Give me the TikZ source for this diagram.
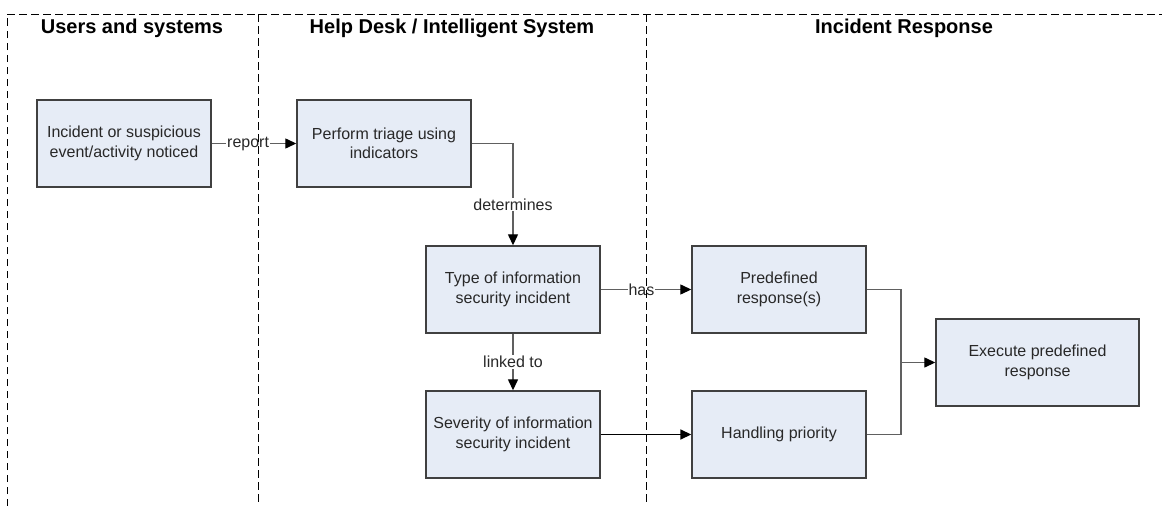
\documentclass[tikz,border=0pt]{standalone}
\usepackage{fontspec}
\setmainfont{Liberation Sans}
\usetikzlibrary{arrows.meta}
\definecolor{boxfill}{RGB}{230,236,246}
\definecolor{boxline}{RGB}{64,64,64}
\definecolor{connline}{RGB}{96,96,96}
\definecolor{txt}{RGB}{40,40,40}
\tikzset{
  stepbox/.style={draw=boxline, line width=1.4pt, fill=boxfill, minimum width=174pt, minimum height=87pt,
    inner sep=0pt, align=center, text=txt, font=\fontsize{16}{19.5}\selectfont},
  lane/.style={dash pattern=on 7.5pt off 4.5pt, line width=0.9pt, black},
  title/.style={font=\bfseries\fontsize{20}{24}\selectfont, text=black},
  conn/.style={draw=connline, line width=1.3pt},
  arr/.style={-{Triangle[length=11pt,width=10pt,color=black]}},
  lbl/.style={fill=white, inner sep=1pt, text=txt, font=\fontsize{16}{19.5}\selectfont}
}
\begin{document}
\begin{tikzpicture}[x=1pt,y=-1pt]
\useasboundingbox (0,0) rectangle (1162,506);
\node[title] (t1) at (132,28) {Users and systems};
\node[title] (t2) at (452,28) {Help Desk / Intelligent System};
\node[title] (t3) at (904,28) {Incident Response};
% boxes
\node[stepbox] (A) at (124,143.5) {Incident or suspicious\\event/activity noticed};
\node[stepbox] (B) at (384,143.5) {Perform triage using\\indicators};
\node[stepbox] (C) at (513,289.5) {Type of information\\security incident};
\node[stepbox] (D) at (513,434.5) {Severity of information\\security incident};
\node[stepbox] (E) at (779,289.5) {Predefined\\response(s)};
\node[stepbox] (F) at (779,434.5) {Handling priority};
\node[stepbox, minimum width=203pt] (G) at (1037.5,362.5) {Execute predefined\\response};
\coordinate (J) at (901,362.5);
\coordinate (K) at (513,143.5);
% connectors
\draw[conn,arr] (A.east) -- node[lbl,pos=0.43] {report} (B.west);
\draw[conn,arr] (B.east) -- (K) -- node[lbl,pos=0.6] {determines} (C.north);
\draw[conn,arr] (C.south) -- node[lbl,pos=0.5] {linked to} (D.north);
\draw[conn,arr] (C.east) -- node[lbl,pos=0.45] {has} (E.west);
\draw[conn,arr,draw=black,line width=1.6pt] (D.east) -- (F.west);
\draw[conn] (E.east) -| (J);
\draw[conn] (F.east) -| (J);
\draw[conn,arr] (J) -- (G.west);
% swimlane frame (drawn on top, as in the reference)
\coordinate (tl) at (7,14);
\coordinate (tr) at (1162,14);
\coordinate (bl) at (7,506);
\coordinate (d1t) at (258,14);
\coordinate (d1b) at (258,506);
\coordinate (d2t) at (646,14);
\coordinate (d2b) at (646,506);
\draw[lane] (bl) -- (tl) -- (tr);
\draw[lane] (d1t) -- (d1b);
\draw[lane] (d2t) -- (d2b);
\end{tikzpicture}
\end{document}
